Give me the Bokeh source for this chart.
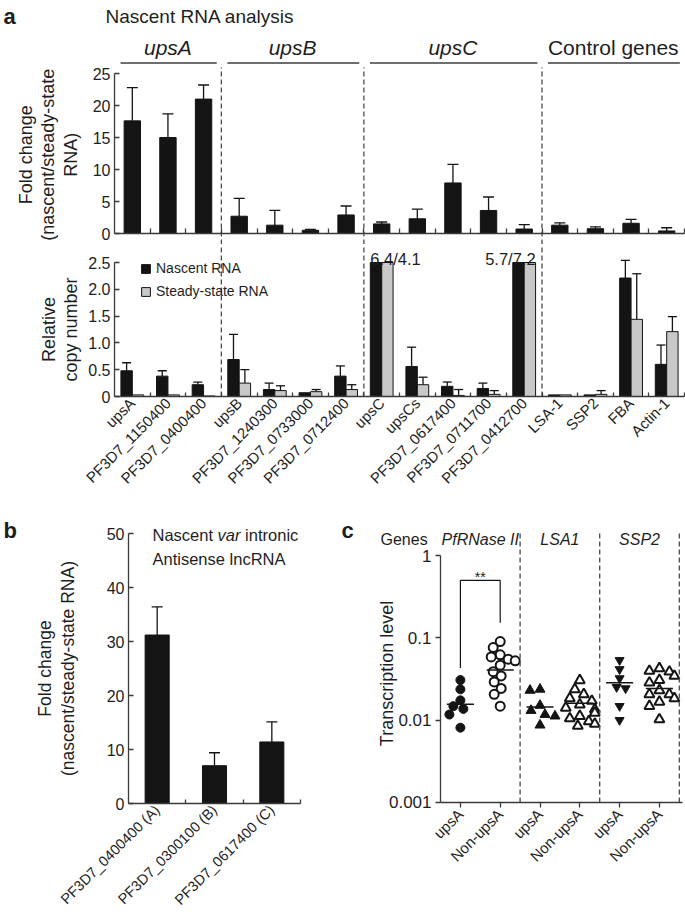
import math
from bokeh.plotting import figure
from bokeh.layouts import column, row
from bokeh.models import (ColumnDataSource, Range1d, FixedTicker, Whisker,
                          TeeHead, Label, Legend, LegendItem, CustomJSTickFormatter)
from bokeh.transform import dodge
from bokeh.embed import file_html
from bokeh.resources import INLINE
from bokeh.core.properties import value

# ---------------- data ----------------
cats_a = ["upsA", "PF3D7_1150400", "PF3D7_0400400", "upsB", "PF3D7_1240300",
          "PF3D7_0733000", "PF3D7_0712400", "upsC", "upsCs", "PF3D7_0617400",
          "PF3D7_0711700", "PF3D7_0412700", "LSA-1", "SSP2", "FBA", "Actin-1"]
groups_a = ["upsA"] * 3 + ["upsB"] * 4 + ["upsC"] * 5 + ["Control genes"] * 4
fold_a = [17.6, 15.0, 21.0, 2.7, 1.3, 0.5, 2.9, 1.5, 2.3, 7.9, 3.6, 0.7, 1.3, 0.75, 1.6, 0.4]
fold_a_err = [5.2, 3.7, 2.2, 2.8, 2.3, 0.15, 1.4, 0.3, 1.5, 2.9, 2.1, 0.7, 0.35, 0.3, 0.6, 0.5]
nascent_a = [0.48, 0.38, 0.22, 0.69, 0.13, 0.07, 0.38, 6.4, 0.56, 0.19, 0.15, 5.7, 0.03, 0.03, 2.21, 0.60]
nascent_a_err = [0.15, 0.10, 0.05, 0.47, 0.12, 0.0, 0.19, 0.0, 0.36, 0.08, 0.10, 0.0, 0.0, 0.0, 0.33, 0.36]
steady_a = [0.03, 0.03, 0.01, 0.25, 0.11, 0.09, 0.13, 4.1, 0.22, 0.02, 0.04, 7.2, 0.03, 0.04, 1.44, 1.21]
steady_a_err = [0.0, 0.0, 0.0, 0.25, 0.09, 0.04, 0.09, 0.0, 0.14, 0.11, 0.07, 0.0, 0.0, 0.07, 0.85, 0.28]
ticks_a_fold = [0, 5, 10, 15, 20, 25]
ticks_a_copy = [0, 0.5, 1.0, 1.5, 2.0, 2.5]

cats_b = ["PF3D7_0400400 (A)", "PF3D7_0300100 (B)", "PF3D7_0617400 (C)"]
fold_b = [31.2, 7.0, 11.4]
fold_b_err = [5.2, 2.4, 3.7]
ticks_b = [0, 10, 20, 30, 40, 50]

genes_c = ["PfRNase II", "LSA1", "SSP2"]
types_c = ["upsA", "Non-upsA"]
pf_upsa = [0.0307, 0.0237, 0.0174, 0.0148, 0.0137, 0.0117, 0.0081]
pf_non = [0.0902, 0.0762, 0.0621, 0.0587, 0.0550, 0.0525, 0.0465, 0.0388, 0.0344,
          0.0291, 0.0243, 0.0206, 0.0148]
lsa_upsa = [0.0237, 0.0230, 0.0151, 0.0131, 0.0117, 0.0112, 0.0087]
lsa_non = [0.0305, 0.0237, 0.0206, 0.0184, 0.0171, 0.0155, 0.0141, 0.0135, 0.0123,
           0.0112, 0.0105, 0.0097, 0.0090, 0.0085]
ssp_upsa = [0.0535, 0.0415, 0.0322, 0.0252, 0.0243, 0.0148, 0.0100]
ssp_non = [0.0427, 0.0396, 0.0388, 0.0344, 0.0307, 0.0285, 0.0230, 0.0206, 0.0206,
           0.0184, 0.0167, 0.0148, 0.0102]
series_c = [pf_upsa, pf_non, lsa_upsa, lsa_non, ssp_upsa, ssp_non]
center_c = [0.0156, 0.0407, 0.0144, 0.0160, 0.0285, 0.0243]
ticks_c = [0.001, 0.01, 0.1, 1]
sig_pair = (0, 1)
sig_levels = (0.50, 0.043, 0.152)   # bracket top, left foot, right foot

# ---------------- style ----------------
FONT = "Liberation Sans"
INK = "#141414"
TXT = "#1e1e1e"
AX = "#3a3a3a"
DASH = "#4a4a4a"
GREY_BAR = "#c8c8c8"
PAGE = 0          # the Bokeh page template has no body margin
W = 685


def base_fig(x0, x1, y0, y1, width, height, **kw):
    p = figure(width=width, height=height, x_range=Range1d(x0, x1), y_range=Range1d(y0, y1),
               output_backend="svg", toolbar_location=None,
               min_border_left=0, min_border_right=0, min_border_top=0,
               min_border_bottom=0, **kw)
    p.outline_line_color = None
    p.grid.visible = False
    p.background_fill_color = "white"
    p.border_fill_color = "white"
    return p


def style_axis(ax, size="16px", tick_in=0, tick_out=0):
    ax.axis_line_color = AX
    ax.axis_line_width = 1.3
    ax.major_tick_line_color = AX
    ax.major_tick_line_width = 1.3
    ax.major_tick_in = tick_in
    ax.major_tick_out = tick_out
    ax.minor_tick_line_color = None
    ax.major_label_text_font = FONT
    ax.major_label_text_font_size = size
    ax.major_label_text_color = TXT
    ax.major_label_standoff = 4


def boundary_ticks(ax, length):
    ax.major_tick_line_color = None
    ax.minor_tick_line_color = AX
    ax.minor_tick_line_width = 1.3
    ax.minor_tick_in = length
    ax.minor_tick_out = 0


def label(p, x, y, text, size, style="normal", align="left", baseline="middle", angle=0.0):
    p.add_layout(Label(x=x, y=y, text=text, text_font=FONT, text_font_size=size,
                       text_font_style=style, text_color=TXT, text_align=align,
                       text_baseline=baseline, angle=angle, angle_units="rad"))


n_a = len(cats_a)
centers_a = [i + 0.5 for i in range(n_a)]
bounds_a = list(range(1, n_a + 1))
sep_a = [i for i in range(1, n_a) if groups_a[i] != groups_a[i - 1]]

# ======================= panel a geometry (page px) =======================
A_FL = 114                       # page x of category 0 left edge
A_PX = 570 / n_a                 # px per category


def a_x(px):
    return (px - A_FL) / A_PX


AX0, AX1 = a_x(PAGE), a_x(PAGE + W)

# ---------- top: fold change ----------
A1_TOP, A1_ZERO, A1_BOT, A1_S = 0, 233, 244, 6.4


def a1_y(py):
    return (A1_ZERO - py) / A1_S


p1 = base_fig(AX0, AX1, a1_y(A1_BOT), a1_y(A1_TOP), W, A1_BOT - A1_TOP)
ya = p1.yaxis[0]
style_axis(ya, "16px", tick_in=5)
ya.ticker = FixedTicker(ticks=ticks_a_fold)
ya.bounds = (ticks_a_fold[0], ticks_a_fold[-1])
ya.fixed_location = 0
xa1 = p1.xaxis[0]
style_axis(xa1, "16px")
xa1.ticker = FixedTicker(ticks=[], minor_ticks=bounds_a)
boundary_ticks(xa1, 5)
xa1.bounds = (0, n_a)
xa1.fixed_location = 0

src1 = ColumnDataSource(dict(x=centers_a, v=fold_a,
                             hi=[v + e for v, e in zip(fold_a, fold_a_err)]))
p1.vbar(x="x", top="v", width=0.46, source=src1, fill_color=INK, line_color=INK)
p1.add_layout(Whisker(source=src1, base="x", lower="v", upper="hi",
                      upper_head=TeeHead(size=11, line_color=INK, line_width=1.3),
                      lower_head=None, line_color=INK, line_width=1.3))
p1.segment(x0=sep_a, y0=[a1_y(A1_BOT)] * len(sep_a), x1=sep_a, y1=[a1_y(67)] * len(sep_a),
           line_color=DASH, line_width=1.3, line_dash="5 3")
# group headers
g_names, g_start, g_end = [], [], []
for i, g in enumerate(groups_a):
    if not g_names or g_names[-1] != g:
        g_names.append(g)
        g_start.append(i)
        g_end.append(i + 1)
    else:
        g_end[-1] = i + 1
p1.segment(x0=[s + 0.17 for s in g_start], y0=[a1_y(62.5)] * len(g_names),
           x1=[min(e - 0.13, n_a - 0.03) for e in g_end], y1=[a1_y(62.5)] * len(g_names),
           line_color="#6e6e6e", line_width=1.8)
for g, s, e in zip(g_names, g_start, g_end):
    label(p1, (s + e) / 2, a1_y(47), g, "21px",
          style="italic" if g.startswith("ups") else "normal", align="center")
label(p1, a_x(3), a1_y(16), "a", "22px", style="bold")
label(p1, a_x(105), a1_y(16), "Nascent RNA analysis", "19px")
for txt, bx in [("Fold change", 25), ("(nascent/steady-state", 47.5), ("RNA)", 70)]:
    label(p1, a_x(bx), 12.3, txt, "18px", align="center", baseline="alphabetic",
          angle=math.pi / 2)

# ---------- bottom: relative copy number ----------
A2_TOP, A2_ZERO, A2_BOT, A2_S = 244, 396, 516, 53.6


def a2_y(py):
    return (A2_ZERO - py) / A2_S


cap = ticks_a_copy[-1]
BW2 = 0.32
p2 = base_fig(AX0, AX1, a2_y(A2_BOT), a2_y(A2_TOP), W, A2_BOT - A2_TOP)
yb = p2.yaxis[0]
style_axis(yb, "16px", tick_in=5)
yb.ticker = FixedTicker(ticks=ticks_a_copy)
yb.bounds = (0, cap)
yb.fixed_location = 0
yb.major_label_overrides = {t: ("0" if t == 0 else f"{t:.1f}") for t in ticks_a_copy}
xb = p2.xaxis[0]
style_axis(xb, "15px")
xb.ticker = FixedTicker(ticks=centers_a, minor_ticks=bounds_a)
boundary_ticks(xb, 4)
xb.major_label_overrides = {c: n for c, n in zip(centers_a, cats_a)}
xb.major_label_orientation = math.pi / 4
xb.bounds = (0, n_a)
xb.fixed_location = 0

src2 = ColumnDataSource(dict(x=centers_a, n=[min(v, cap) for v in nascent_a],
                             s=[min(v, cap) for v in steady_a]))
r_n = p2.vbar(x=dodge("x", -BW2 / 2), top="n", width=BW2, source=src2,
              fill_color=INK, line_color=INK, line_width=1)
r_s = p2.vbar(x=dodge("x", BW2 / 2), top="s", width=BW2, source=src2,
              fill_color=GREY_BAR, line_color=INK, line_width=1)
for vals, errs, off in [(nascent_a, nascent_a_err, -BW2 / 2), (steady_a, steady_a_err, BW2 / 2)]:
    keep = [i for i in range(n_a) if errs[i] > 0 and vals[i] <= cap]
    ws = ColumnDataSource(dict(x=[centers_a[i] for i in keep], lo=[vals[i] for i in keep],
                               hi=[vals[i] + errs[i] for i in keep]))
    p2.add_layout(Whisker(source=ws, base=dodge("x", off), lower="lo", upper="hi",
                          upper_head=TeeHead(size=9, line_color=INK, line_width=1.3),
                          lower_head=None, line_color=INK, line_width=1.3))
# values beyond the axis: printed above the clipped bars, kept inside their group
over = [i for i in range(n_a) if nascent_a[i] > cap or steady_a[i] > cap]
ox, oal = [], []
for i in over:
    first = i == 0 or groups_a[i - 1] != groups_a[i]
    last = i == n_a - 1 or groups_a[i + 1] != groups_a[i]
    if first:
        ox.append(centers_a[i] - BW2)
        oal.append("left")
    elif last:
        ox.append(centers_a[i] + BW2)
        oal.append("right")
    else:
        ox.append(centers_a[i])
        oal.append("center")
src_over = ColumnDataSource(dict(x=ox, y=[cap + 4 / A2_S] * len(over), al=oal,
                                 t=[f"{nascent_a[i]:g}/{steady_a[i]:g}" for i in over]))
p2.text(x="x", y="y", text="t", text_align="al", source=src_over,
        text_font=value(FONT), text_font_size="16.5px", text_color=TXT,
        text_baseline="alphabetic")
p2.segment(x0=sep_a, y0=[0] * len(sep_a), x1=sep_a, y1=[a2_y(A2_TOP)] * len(sep_a),
           line_color=DASH, line_width=1.3, line_dash="5 3")
leg = Legend(items=[LegendItem(label="Nascent RNA", renderers=[r_n]),
                    LegendItem(label="Steady-state RNA", renderers=[r_s])],
             location=(140, 215), glyph_width=11, glyph_height=11, label_height=20,
             spacing=3, padding=0, margin=0, border_line_color=None,
             background_fill_alpha=0, label_text_font=FONT, label_text_font_size="14px",
             label_text_color=TXT, label_standoff=5)
p2.add_layout(leg)
for txt, bx in [("Relative", 48), ("copy number", 70)]:
    label(p2, a_x(bx), 1.25, txt, "18px", align="center", baseline="alphabetic",
          angle=math.pi / 2)

# ======================= panel b =======================
B_FL, B_PX, B_TOP, B_ZERO, B_BOT, B_S = 128, 172 / 3, 516, 803, 920, 5.4
B_W = 335


def b_x(px):
    return (px - B_FL) / B_PX


def b_y(py):
    return (B_ZERO - py) / B_S


nb = len(cats_b)
centers_b = [i + 0.5 for i in range(nb)]
pb = base_fig(b_x(PAGE), b_x(PAGE + B_W), b_y(B_BOT), b_y(B_TOP), B_W, B_BOT - B_TOP)
yc = pb.yaxis[0]
style_axis(yc, "16px", tick_in=5)
yc.ticker = FixedTicker(ticks=ticks_b)
yc.bounds = (0, ticks_b[-1])
yc.fixed_location = 0
xcb = pb.xaxis[0]
style_axis(xcb, "14.5px")
xcb.ticker = FixedTicker(ticks=centers_b, minor_ticks=list(range(1, nb + 1)))
boundary_ticks(xcb, 4)
xcb.major_label_overrides = {c: n for c, n in zip(centers_b, cats_b)}
xcb.major_label_orientation = math.pi / 4
xcb.bounds = (0, nb)
xcb.fixed_location = 0
srcb = ColumnDataSource(dict(x=centers_b, v=fold_b,
                             hi=[v + e for v, e in zip(fold_b, fold_b_err)]))
pb.vbar(x="x", top="v", width=0.42, source=srcb, fill_color=INK, line_color=INK)
pb.add_layout(Whisker(source=srcb, base="x", lower="v", upper="hi",
                      upper_head=TeeHead(size=11, line_color=INK, line_width=1.3),
                      lower_head=None, line_color=INK, line_width=1.3))
label(pb, b_x(3), b_y(530), "b", "22px", style="bold")
fs = 16.5
label(pb, b_x(152), b_y(534), "Nascent", f"{fs}px")
label(pb, b_x(152 + 3.946 * fs), b_y(534), "var", f"{fs}px", style="italic")
label(pb, b_x(152 + (3.946 + 1.389 + 0.278) * fs), b_y(534), "intronic", f"{fs}px")
label(pb, b_x(152), b_y(558), "Antisense lncRNA", f"{fs}px")
for txt, bx in [("Fold change", 44), ("(nascent/steady-state RNA)", 67)]:
    label(pb, b_x(bx), 25, txt, "17.5px", align="center", baseline="alphabetic",
          angle=math.pi / 2)

# ======================= panel c =======================
C_L, C_W = PAGE + B_W, W - B_W
C_FL, C_PX, C_ONE, C_DEC = 440, 39.8, 555, 82.33
C_TOP, C_BOT = 516, 920


def c_x(px):
    return (px - C_FL) / C_PX


def c_y(py):
    return 10 ** ((C_ONE - py) / C_DEC)


n_c = len(series_c)
pc = base_fig(c_x(C_L), c_x(C_L + C_W), c_y(C_BOT), c_y(C_TOP), C_W, C_BOT - C_TOP,
              y_axis_type="log")
yd = pc.yaxis[0]
style_axis(yd, "17px", tick_out=5)
yd.ticker = FixedTicker(ticks=ticks_c)
yd.formatter = CustomJSTickFormatter(code="return String(tick);")
yd.bounds = (ticks_c[0], ticks_c[-1])
yd.fixed_location = 0
centers = [i + 0.5 for i in range(n_c)]
xd = pc.xaxis[0]
style_axis(xd, "15px", tick_out=5)
xd.ticker = FixedTicker(ticks=centers)
xd.major_label_overrides = {c: types_c[i % 2] for i, c in enumerate(centers)}
xd.major_label_orientation = math.pi / 4
xd.bounds = (0, c_x(682))
xd.fixed_location = ticks_c[0]


def swarm(vals, diam):
    placed, offs = [], [0.0] * len(vals)
    order = sorted(range(len(vals)), key=lambda i: -vals[i])
    cands = [0]
    for k in range(1, 16):
        cands += [-k, k]
    for i in order:
        y = math.log10(vals[i]) * C_DEC
        for c in cands:
            if all((c - px) ** 2 + (y - py) ** 2 >= diam ** 2 for px, py in placed):
                break
        placed.append((c, y))
        offs[i] = c / C_PX
    return offs


marker_styles = [("circle", True, 9), ("circle", False, 9), ("triangle", True, 10),
                 ("triangle", False, 10), ("inverted_triangle", True, 9),
                 ("triangle", False, 10)]
for i, (vals, (mk, filled, sz)) in enumerate(zip(series_c, marker_styles)):
    offs = swarm(vals, sz)
    pc.scatter(x=[centers[i] + o for o in offs], y=vals, marker=mk, size=sz,
               fill_color=INK if filled else "white", line_color=INK,
               line_width=1 if filled else 2)
pc.segment(x0=[c - 0.34 for c in centers], y0=center_c, x1=[c + 0.34 for c in centers],
           y1=center_c, line_color=INK, line_width=1.5)
sep_c = [2 * (g + 1) for g in range(len(genes_c))]
pc.segment(x0=sep_c, y0=[ticks_c[0]] * len(sep_c), x1=sep_c, y1=[c_y(533)] * len(sep_c),
           line_color=DASH, line_width=1.3, line_dash="5 3")
xa_, xb_ = centers[sig_pair[0]], centers[sig_pair[1]]
top, lf, rf = sig_levels
pc.segment(x0=[xa_, xa_, xb_], y0=[lf, top, rf], x1=[xa_, xb_, xb_], y1=[top, top, top],
           line_color=INK, line_width=1.2)
pc.add_layout(Label(x=(xa_ + xb_) / 2, y=top * 10 ** (3 / C_DEC), text="**", text_font=FONT,
                    text_font_size="14px", text_color=TXT, text_align="center",
                    text_baseline="alphabetic"))
label(pc, c_x(341), c_y(530), "c", "22px", style="bold")
label(pc, c_x(380), c_y(539), "Genes", "16px")
for g, name in enumerate(genes_c):
    label(pc, 2 * g + 1, c_y(539), name, "16px", style="italic", align="center")
label(pc, c_x(386), c_y(673), "Transcription level", "18px", align="center",
      baseline="alphabetic", angle=math.pi / 2)

layout = column(p1, p2, row(pb, pc))
open("out.html", "w").write(file_html(layout, INLINE))
